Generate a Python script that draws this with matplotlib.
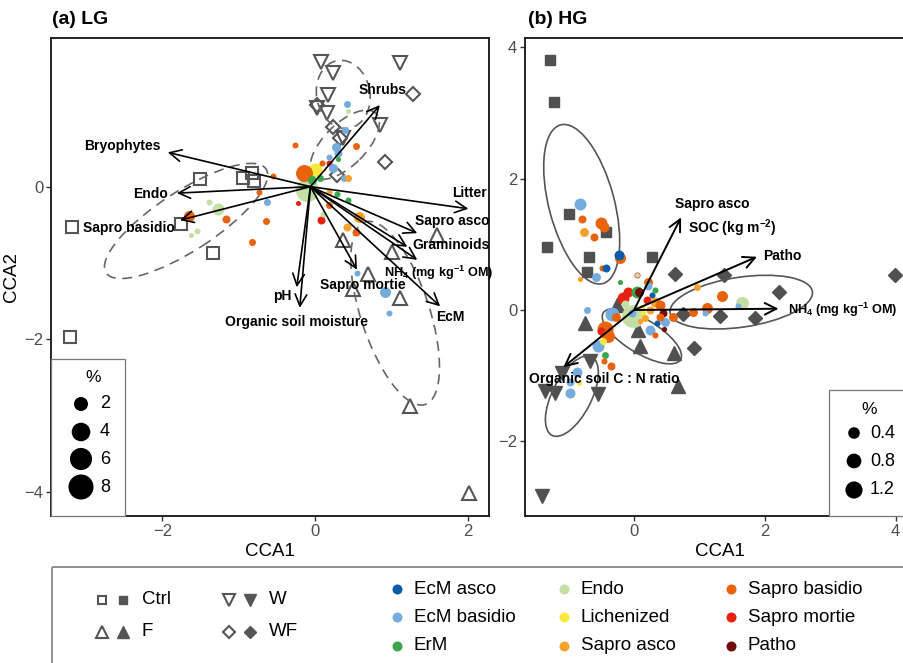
import matplotlib
matplotlib.use('Agg')
import matplotlib.pyplot as plt
from matplotlib.patches import Ellipse, Rectangle
import numpy as np

plt.rcParams['font.family'] = ['Liberation Sans', 'DejaVu Sans']
plt.rcParams['mathtext.fontset'] = 'custom'
plt.rcParams['mathtext.rm'] = 'Liberation Sans:bold'
plt.rcParams['mathtext.it'] = 'Liberation Sans:bold'
plt.rcParams['mathtext.bf'] = 'Liberation Sans:bold'

# guilds and colours
guilds = ['EcM asco', 'EcM basidio', 'ErM', 'Endo', 'Lichenized',
          'Sapro asco', 'Sapro basidio', 'Sapro mortie', 'Patho']
guild_colors = ['#0b5ca8', '#74acde', '#3aa64c', '#c4dfa6', '#f7e93c',
                '#f6a12a', '#e9620c', '#e5220f', '#730c0c']
col = dict(zip(guilds, guild_colors))

# ---- (a) LG : sites ----
lg_ctrl_x = [-1.51, -0.95, -0.82, -0.80, -3.18, -1.75, -1.34, -3.21]
lg_ctrl_y = [0.10, 0.11, 0.18, 0.08, -0.53, -0.49, -0.87, -1.97]
lg_f_x = [1.60, 0.37, 1.01, 0.69, 0.50, 1.11, 1.25, 2.02]
lg_f_y = [-0.64, -0.70, -0.86, -1.15, -1.34, -1.46, -2.88, -4.02]
lg_w_x = [0.08, 0.24, 1.11, 0.17, 0.03, 0.16, 0.37, 0.85]
lg_w_y = [1.64, 1.49, 1.62, 1.20, 1.03, 0.96, 0.64, 0.81]
lg_wf_x = [1.28, 0.03, 0.24, 0.33, 0.92, 0.29]
lg_wf_y = [1.21, 1.07, 0.78, 0.64, 0.32, 0.15]

# ---- (a) LG : fungal OTU groups (relative abundance %) ----
lg_dot_x = [-0.10, 0.00, -0.14, -0.04, 0.07, -1.27, -1.39, -1.55, -1.63, -1.65,
            -1.17, -0.64, -0.83, -0.73, -0.55, -0.26, 0.54, 0.09, 0.18, 0.54,
            0.18, -0.22, 0.08, 0.42, 0.39, 0.28, 0.30, 0.18, 0.24, 0.38,
            -0.63, 0.55, 0.92, 0.97, 0.43, 0.10, 0.30, 0.29, 0.43, 0.58,
            0.42, 0.43, 0.18]
lg_dot_y = [-0.05, 0.22, 0.18, 0.09, 0.11, -0.29, -0.20, -0.58, -0.64, -0.39,
            -0.43, -0.45, -0.73, -0.07, 0.14, 0.54, 0.53, 0.31, -0.24, -0.60,
            0.31, -0.22, -0.44, 1.08, 0.74, 0.52, 0.44, 0.39, 0.24, 0.12,
            -0.20, -1.13, -1.38, -1.66, 0.99, -0.36, 0.36, -0.10, -0.18, -0.40,
            -0.53, 0.11, -0.07]
lg_dot_pct = [6.6, 2.0, 3.2, 0.59, 0.26, 1.33, 0.15, 0.15, 0.07, 1.05,
              0.41, 0.26, 0.26, 0.15, 0.15, 0.15, 0.26, 0.15, 0.26, 0.41,
              0.15, 0.07, 0.41, 0.26, 0.26, 0.59, 0.41, 0.15, 0.59, 0.26,
              0.26, 0.15, 1.05, 0.15, 0.07, 0.15, 0.07, 0.15, 0.15, 1.05,
              0.41, 0.26, 0.15]
lg_dot_guild = ['Endo', 'Lichenized', 'Sapro basidio', 'ErM', 'ErM', 'Endo', 'Endo', 'Endo', 'Endo', 'Sapro basidio',
                'Sapro basidio', 'Sapro basidio', 'Sapro basidio', 'Sapro basidio', 'Sapro basidio', 'Sapro basidio',
                'Sapro basidio', 'Sapro basidio', 'Sapro basidio', 'Sapro basidio',
                'Sapro mortie', 'Sapro mortie', 'Sapro mortie', 'EcM basidio', 'EcM basidio', 'EcM basidio',
                'EcM basidio', 'EcM basidio', 'EcM basidio', 'EcM basidio',
                'EcM basidio', 'EcM basidio', 'EcM basidio', 'EcM basidio', 'Endo', 'Endo', 'ErM', 'ErM', 'ErM',
                'Sapro asco', 'Sapro asco', 'Sapro asco', 'Sapro asco']

# ---- (a) LG : environmental vectors ----
lg_vec_names = ['Bryophytes', 'Endo', 'Sapro basidio', 'Shrubs', 'Litter', 'Sapro asco',
                'Graminoids', 'NH$_4$ (mg kg$^{-1}$ OM)', 'EcM', 'Sapro mortie', 'pH',
                'Organic soil moisture']
lg_vec_x = [-1.93, -1.81, -1.77, 0.85, 2.01, 1.34, 1.21, 1.34, 1.64, 0.55, -0.24, -0.20]
lg_vec_y = [0.45, -0.085, -0.44, 1.07, -0.29, -0.61, -0.79, -0.96, -1.57, -1.09, -1.32, -1.59]
lg_lab_x = [-2.53, -2.15, -2.44, 0.89, 2.03, 1.31, 1.28, 0.90, 1.77, 0.62, -0.43, -0.24]
lg_lab_y = [0.53, -0.09, -0.54, 1.27, -0.085, -0.45, -0.77, -1.13, -1.71, -1.29, -1.43, -1.78]
lg_lab_ha = ['center', 'center', 'center', 'center', 'center', 'left',
             'left', 'left', 'center', 'center', 'center', 'center']

# ---- (a) LG : treatment ellipses (centre x, centre y, width, height, angle) ----
lg_ell_cx = [-1.69, 0.37, 0.39, 1.05]
lg_ell_cy = [-0.45, 1.21, 0.55, -1.66]
lg_ell_w = [2.50, 0.90, 1.16, 2.52]
lg_ell_h = [0.78, 0.70, 0.55, 0.90]
lg_ell_ang = [33, 100, 45, -71.8]

# ---- (b) HG : sites ----
hg_ctrl_x = [-1.28, -1.22, -0.99, -1.33, -0.69, -0.43, -0.72, 0.28]
hg_ctrl_y = [3.81, 3.17, 1.46, 0.96, 0.81, 1.19, 0.58, 0.81]
hg_f_x = [-0.75, -0.26, 0.06, 0.09, 0.61, 0.67]
hg_f_y = [-0.20, 0.08, -0.30, -0.55, -0.65, -1.16]
hg_w_x = [-1.10, -0.67, -1.36, -1.21, -0.55, -1.41]
hg_w_y = [-0.96, -0.78, -1.23, -1.26, -1.28, -2.83]
hg_wf_x = [0.63, 1.38, 3.99, 2.22, 0.75, 1.31, 1.85, 0.92]
hg_wf_y = [0.55, 0.53, 0.53, 0.27, -0.06, -0.09, -0.12, -0.58]

# ---- (b) HG : fungal OTU groups ----
hg_dot_x = [-0.02, -0.83, -0.80, -0.76, -0.50, -0.46, -0.61, -0.21, -0.23, -0.49,
            -0.43, -0.58, -0.83, -0.21, 0.05, 0.05, 0.21, 0.21, -0.09, -0.17,
            0.05, 0.08, -0.14, 0.28, 0.20, 0.32, 0.32, 0.40, 0.44, -0.34,
            -0.28, -0.72, 0.09, -0.03, 0.14, 0.24, 0.32, 0.35, 0.47, 0.46,
            0.60, 0.24, 0.17, 0.40, 0.12, -0.44, -0.50, -0.40, -0.55, -0.47,
            -0.44, -0.46, -0.35, -0.87, -0.98, -0.98, -0.84, 0.96, 1.35, 1.12,
            0.90, 1.09, 1.65, 1.59]
hg_dot_y = [-0.09, 1.61, 1.39, 1.19, 1.32, 1.26, 1.11, 0.79, 0.84, 0.64,
            0.64, 0.50, 0.47, 0.43, 0.53, 0.53, 0.43, 0.37, 0.27, 0.18,
            0.27, 0.27, 0.09, 0.23, 0.15, 0.12, 0.30, 0.08, -0.05, -0.06,
            -0.11, 0.00, -0.17, -0.05, -0.05, -0.30, -0.38, -0.20, -0.18, -0.29,
            -0.11, 0.00, -0.12, -0.11, 0.05, -0.29, -0.32, -0.40, -0.55, -0.47,
            -0.68, -0.78, -0.85, -0.94, -1.10, -1.26, -1.11, 0.35, 0.21, 0.03,
            -0.03, -0.05, 0.11, 0.06]
hg_dot_pct = [2.5, 0.44, 0.11, 0.17, 0.44, 0.25, 0.11, 0.34, 0.25, 0.03,
              0.11, 0.17, 0.01, 0.01, 0.03, 0.005, 0.17, 0.11, 0.25, 0.44,
              0.44, 0.17, 0.11, 0.03, 0.11, 0.25, 0.03, 0.25, 0.11, 0.69,
              0.17, 0.06, 0.01, 0.11, 0.01, 0.25, 0.03, 0.03, 0.17, 0.01,
              0.17, 0.11, 0.06, 0.11, 0.01, 1.0, 0.11, 0.56, 0.44, 0.06,
              0.06, 0.03, 0.11, 0.25, 0.11, 0.25, 0.01, 0.06, 0.34, 0.34,
              0.17, 0.03, 0.56, 0.03]
hg_dot_guild = ['Endo', 'EcM basidio', 'Sapro basidio', 'Sapro asco', 'Sapro basidio', 'Sapro basidio',
                'Sapro basidio', 'Sapro basidio', 'EcM asco', 'Sapro basidio',
                'EcM asco', 'EcM basidio', 'Sapro asco', 'ErM', 'Sapro mortie', 'Endo',
                'Sapro basidio', 'EcM basidio', 'Sapro mortie', 'Sapro mortie',
                'ErM', 'Patho', 'Endo', 'EcM asco', 'Sapro mortie', 'Sapro asco', 'ErM',
                'Sapro basidio', 'Patho', 'EcM basidio',
                'Sapro basidio', 'EcM basidio', 'Sapro asco', 'EcM basidio', 'Lichenized', 'EcM basidio',
                'Sapro basidio', 'EcM asco', 'EcM basidio', 'Patho',
                'Sapro basidio', 'Sapro asco', 'Sapro asco', 'Sapro basidio', 'Lichenized', 'Sapro basidio',
                'Sapro mortie', 'Sapro basidio', 'EcM basidio', 'Lichenized',
                'ErM', 'Sapro basidio', 'Sapro basidio', 'EcM basidio', 'EcM basidio', 'EcM basidio',
                'Lichenized', 'Sapro asco', 'Sapro basidio', 'Sapro basidio',
                'Sapro basidio', 'EcM basidio', 'Endo', 'EcM basidio']

# ---- (b) HG : environmental vectors ----
hg_vec_x = [0.72, 1.88, 2.21, -1.08]
hg_vec_y = [1.41, 0.81, 0.02, -0.87]
hg_lab_names = ['Sapro asco', 'SOC (kg m$^{-2}$)', 'Patho', 'NH$_4$ (mg kg$^{-1}$ OM)',
                'Organic soil C : N ratio']
hg_lab_x = [0.63, 0.83, 1.97, 2.35, -1.61]
hg_lab_y = [1.61, 1.25, 0.82, 0.00, -1.05]

# ---- (b) HG : treatment ellipses ----
hg_ell_cx = [-0.80, 1.64, 0.12, -0.95]
hg_ell_cy = [1.61, 0.12, -0.40, -1.31]
hg_ell_w = [2.50, 2.20, 1.38, 1.34]
hg_ell_h = [1.00, 0.76, 0.52, 0.60]
hg_ell_ang = [105, 8.4, -31, 63]


def size_lg(v):
    d = 3 + 7.8 * np.sqrt(np.asarray(v, dtype=float))
    return (d * 0.72) ** 2


def size_hg(v):
    d = 4 + 12 * np.sqrt(np.asarray(v, dtype=float))
    return (d * 0.72) ** 2


def label_size(name):
    # the long NH4 labels are set a little tighter
    return 9.2 if 'NH' in name else 10


W, H = 904, 663
fig = plt.figure(figsize=(W / 100, H / 100), dpi=100)


def px_axes(x0, y0, x1, y1):
    return fig.add_axes([x0 / W, 1 - y1 / H, (x1 - x0) / W, (y1 - y0) / H])


ax_a = px_axes(51, 38, 489, 516)
ax_b = px_axes(525, 38, 915, 516)
ax_a.set_xlim(-3.46, 2.28)
ax_a.set_ylim(-4.32, 1.95)
ax_b.set_xlim(-1.667, 4.297)
ax_b.set_ylim(-3.135, 4.14)
ax_a.set_xticks([-2, 0, 2])
ax_a.set_yticks([-4, -2, 0])
ax_b.set_xticks([0, 2, 4])
ax_b.set_yticks([-2, 0, 2, 4])

for ax in (ax_a, ax_b):
    for s in ax.spines.values():
        s.set_linewidth(1.4)
        s.set_color('#222222')
    ax.tick_params(direction='out', length=3.5, width=1, color='#333333',
                   labelcolor='#4d4d4d', labelsize=12, pad=2)
    ax.set_xlabel('CCA1', fontsize=13.5, labelpad=3)
ax_a.set_ylabel('CCA2', fontsize=13.5)
ax_a.yaxis.set_label_coords(-0.071, 0.5)

# ---- panel (a) ----
grey_open = '#555555'
ax_a.plot(lg_ctrl_x, lg_ctrl_y, ls='none', marker='s', ms=8, mfc='none', mec=grey_open, mew=1.5, zorder=2)
ax_a.plot(lg_f_x, lg_f_y, ls='none', marker='^', ms=10, mfc='none', mec=grey_open, mew=1.5, zorder=2)
ax_a.plot(lg_w_x, lg_w_y, ls='none', marker='v', ms=10, mfc='none', mec=grey_open, mew=1.5, zorder=2)
ax_a.plot(lg_wf_x, lg_wf_y, ls='none', marker='D', ms=7, mfc='none', mec=grey_open, mew=1.5, zorder=2)

for cx, cy, w, h, a in zip(lg_ell_cx, lg_ell_cy, lg_ell_w, lg_ell_h, lg_ell_ang):
    e = Ellipse((cx, cy), w, h, angle=a, fill=False, ec='#666666', lw=1.2,
                ls=(0, (6, 4)), zorder=3)
    ax_a.add_patch(e)

for x, y, v, g in zip(lg_dot_x, lg_dot_y, lg_dot_pct, lg_dot_guild):
    ax_a.scatter(x, y, s=size_lg(v), color=col[g], lw=0, zorder=4)

for tx, ty in zip(lg_vec_x, lg_vec_y):
    ax_a.annotate('', xy=(tx, ty), xytext=(-0.06, 0.0),
                  arrowprops=dict(arrowstyle='->,head_length=0.6,head_width=0.3',
                                  lw=1.2, color='black', shrinkA=0, shrinkB=0,
                                  mutation_scale=14), zorder=5)
for name, lx, ly, ha in zip(lg_vec_names, lg_lab_x, lg_lab_y, lg_lab_ha):
    ax_a.text(lx, ly, name, fontsize=label_size(name), fontweight='bold',
              ha=ha, va='center', zorder=6)

# ---- panel (b) ----
grey_fill = '#505050'
ax_b.plot(hg_ctrl_x, hg_ctrl_y, ls='none', marker='s', ms=7.5, color=grey_fill, zorder=2)
ax_b.plot(hg_f_x, hg_f_y, ls='none', marker='^', ms=10, color=grey_fill, zorder=2)
ax_b.plot(hg_w_x, hg_w_y, ls='none', marker='v', ms=10, color=grey_fill, zorder=2)
ax_b.plot(hg_wf_x, hg_wf_y, ls='none', marker='D', ms=7, color=grey_fill, zorder=2)

for cx, cy, w, h, a in zip(hg_ell_cx, hg_ell_cy, hg_ell_w, hg_ell_h, hg_ell_ang):
    e = Ellipse((cx, cy), w, h, angle=a, fill=False, ec='#555555', lw=1.2, zorder=3)
    ax_b.add_patch(e)

for x, y, v, g in zip(hg_dot_x, hg_dot_y, hg_dot_pct, hg_dot_guild):
    ax_b.scatter(x, y, s=size_hg(v), color=col[g], lw=0, zorder=4)

for tx, ty in zip(hg_vec_x, hg_vec_y):
    ax_b.annotate('', xy=(tx, ty), xytext=(0, 0),
                  arrowprops=dict(arrowstyle='->,head_length=0.6,head_width=0.3',
                                  lw=1.4, color='black', shrinkA=0, shrinkB=0,
                                  mutation_scale=14), zorder=5)
for name, lx, ly in zip(hg_lab_names, hg_lab_x, hg_lab_y):
    ax_b.text(lx, ly, name, fontsize=label_size(name), fontweight='bold',
              ha='left', va='center', zorder=6)

# ---- overlay for titles and legends (pixel coordinates) ----
lax = fig.add_axes([0, 0, 1, 1], zorder=10)
lax.set_xlim(0, W)
lax.set_ylim(H, 0)
lax.axis('off')

lax.text(52, 20, '(a) LG', fontsize=14, fontweight='bold', va='center', ha='left')
lax.text(528, 20, '(b) HG', fontsize=14, fontweight='bold', va='center', ha='left')

# size legend (a)
lax.add_patch(Rectangle((51, 359), 74, 157, fc='white', ec='#777777', lw=0.9))
lax.text(93, 378, '%', fontsize=12.5, ha='center', va='center')
lg_leg_vals = [2, 4, 6, 8]
lg_leg_rows = [404, 432, 459, 487]
lax.scatter([81] * 4, lg_leg_rows, s=size_lg(lg_leg_vals), color='black', lw=0)
for v, yy in zip(lg_leg_vals, lg_leg_rows):
    lax.text(100, yy, str(v), fontsize=13, ha='left', va='center')

# size legend (b)
lax.add_patch(Rectangle((829, 390), 120, 126, fc='white', ec='#777777', lw=0.9))
lax.text(869, 409, '%', fontsize=12.5, ha='center', va='center')
hg_leg_vals = [0.4, 0.8, 1.2]
hg_leg_rows = [433, 461, 490]
lax.scatter([854] * 3, hg_leg_rows, s=size_hg(hg_leg_vals), color='black', lw=0)
for v, yy in zip(hg_leg_vals, hg_leg_rows):
    lax.text(870, yy, str(v), fontsize=13, ha='left', va='center')

# bottom legend
lax.add_patch(Rectangle((52, 567), 900, 120, fill=False, ec='#888888', lw=1.3, clip_on=False))
treatments = ['Ctrl', 'F', 'W', 'WF']
treat_markers = ['s', '^', 'v', 'D']
treat_ms = [6, 8, 8, 6]
treat_pos = [(102, 600), (102, 632), (229, 600), (229, 632)]
for t, m, ms, (tx, ty) in zip(treatments, treat_markers, treat_ms, treat_pos):
    lax.plot(tx, ty, marker=m, ms=ms, mfc='white', mec='#555555', mew=1.5, ls='none')
    lax.plot(tx + 21, ty, marker=m, ms=ms, color='#555555', ls='none')
    lax.text(tx + 40, ty, t, fontsize=13.5, ha='left', va='center')

guild_cols_x = [397, 564, 731]
guild_rows_y = [589, 617, 646]
for i, g in enumerate(guilds):
    gx = guild_cols_x[i // 3]
    gy = guild_rows_y[i % 3]
    lax.scatter(gx, gy, s=52, color=col[g], lw=0)
    lax.text(gx + 17, gy, g, fontsize=13.5, ha='left', va='center')

fig.savefig('out.png', dpi=100)
